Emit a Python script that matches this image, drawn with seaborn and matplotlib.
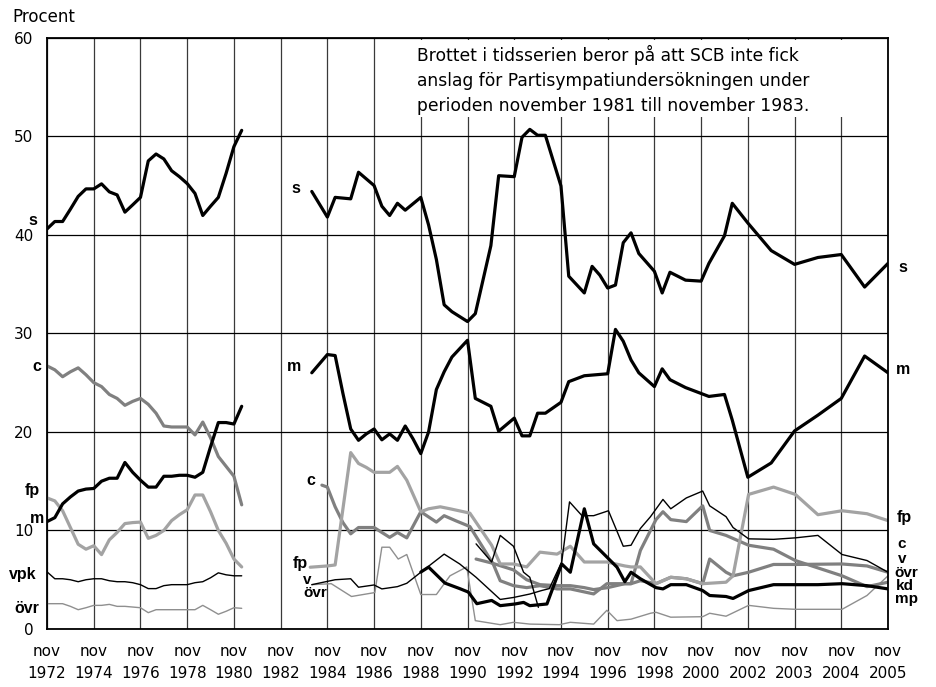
import numpy as np
import matplotlib
matplotlib.use("Agg")
import matplotlib.pyplot as plt
import seaborn as sns
from matplotlib.patches import Rectangle

sns.set_theme(style="white")
plt.rcParams['font.family'] = ['DejaVu Sans']
plt.rcParams['text.color'] = 'black'
plt.rcParams['xtick.color'] = 'black'
plt.rcParams['ytick.color'] = 'black'

# ---- x-axis: one tick per survey label, 6 time slots between ticks ----
tick_months = ["nov"] * 19
tick_years = ["1972", "1974", "1976", "1978", "1980", "1982", "1984", "1986", "1988",
              "1990", "1992", "1994", "1996", "1998", "2000", "2002", "2003", "2004", "2005"]

# ---- period 1: 1972-1981 (time in slots) ----
t1 = list(range(26))
s1 = [40.6, 41.35, 41.35, 42.6, 43.9, 44.66, 44.66, 45.17, 44.36, 44.05, 42.3, 43.04, 43.8,
      47.5, 48.2, 47.7, 46.5, 45.9, 45.2, 44.2, 41.96, 42.9, 43.8, 46.25, 48.95, 50.6]
m1 = [10.9, 11.3, 12.7, 13.4, 14.0, 14.2, 14.26, 15.0, 15.3, 15.3, 16.9, 15.9, 15.1, 14.4,
      14.4, 15.5, 15.5, 15.6, 15.6, 15.4, 15.9, 18.5, 20.95, 20.95, 20.8, 22.6]
c1 = [26.7, 26.3, 25.6, 26.1, 26.5, 25.8, 25.0, 24.6, 23.8, 23.4, 22.7, 23.1, 23.4, 22.8,
      21.9, 20.6, 20.5, 20.5, 20.5, 19.7, 21.0, 19.4, 17.5, 16.5, 15.5, 12.6]
fp1 = [13.3, 13.0, 12.0, 10.3, 8.6, 8.1, 8.45, 7.55, 9.05, 9.8, 10.7, 10.8, 10.85, 9.2, 9.5,
       10.0, 11.0, 11.6, 12.1, 13.6, 13.6, 11.9, 10.0, 8.7, 7.1, 6.3]
vpk1 = [5.8, 5.1, 5.1, 5.0, 4.8, 5.0, 5.1, 5.1, 4.9, 4.8, 4.8, 4.7, 4.5, 4.1, 4.1, 4.4, 4.5,
        4.5, 4.5, 4.7, 4.8, 5.2, 5.7, 5.5, 5.4, 5.4]
ovr1 = [2.57, 2.57, 2.57, 2.3, 1.96, 2.16, 2.4, 2.4, 2.5, 2.3, 2.3, 2.23, 2.16, 1.66, 1.96,
        1.96, 1.96, 1.96, 1.96, 1.96, 2.4, 1.96, 1.5, 1.8, 2.16, 2.1]

# ---- period 2: 1983-2005 ----
s2_t = [34, 36, 37, 39, 40, 42, 43, 44, 45, 46, 48, 49, 50, 51, 52, 54, 55, 57, 58, 60, 61, 62,
        63, 64, 66, 67, 69, 70, 71, 72, 73, 74, 75, 76, 78, 79, 80, 82, 84, 85, 87, 88, 90, 93,
        96, 99, 102, 105, 108]
s2 = [44.4, 41.8, 43.8, 43.65, 46.35, 45.0, 42.9, 41.96, 43.2, 42.5, 43.8, 41.0, 37.5, 32.9,
      32.2, 31.2, 32.0, 38.9, 46.0, 45.9, 49.9, 50.7, 50.1, 50.1, 44.96, 35.8, 34.1, 36.8,
      35.9, 34.6, 34.9, 39.2, 40.2, 38.1, 36.3, 34.1, 36.2, 35.4, 35.3, 37.1, 39.9, 43.2, 41.2,
      38.4, 37.0, 37.7, 38.0, 34.7, 37.1]
m2_t = [34, 36, 37, 38, 39, 40, 41, 42, 43, 44, 45, 46, 47, 48, 49, 50, 51, 52, 54, 55, 57, 58,
        60, 61, 62, 63, 64, 66, 67, 69, 72, 73, 74, 75, 76, 78, 79, 80, 82, 85, 87, 88, 90, 93,
        96, 99, 102, 105, 108]
m2 = [26.0, 27.85, 27.75, 23.9, 20.3, 19.15, 19.8, 20.3, 19.2, 19.8, 19.15, 20.6, 19.3, 17.8,
      20.0, 24.3, 26.1, 27.6, 29.3, 23.4, 22.6, 20.07, 21.4, 19.6, 19.6, 21.9, 21.9, 23.0, 25.1,
      25.7, 25.9, 30.4, 29.2, 27.3, 26.0, 24.6, 26.4, 25.3, 24.5, 23.6, 23.8, 21.2, 15.4, 16.85,
      20.1, 21.7, 23.4, 27.7, 26.0]
c2_t = [35.3, 36, 37, 38, 39, 40, 41, 42, 43, 44, 45, 46.2, 48, 50, 51, 52.6, 54.3, 57.3, 58.2,
        59.9, 61.6, 63.3, 65.5, 67.2, 70.2, 71.9, 74.2, 75, 76.2, 78.2, 80.1, 82.1, 84.2, 85.1,
        87.2, 88.1, 90.1, 93.3, 96.1, 102.1, 105.3, 108]
c2 = [14.6, 14.4, 12.4, 10.8, 9.66, 10.3, 10.3, 10.3, 9.8, 9.3, 9.8, 9.25, 11.9, 10.85, 11.5,
      10.95, 10.4, 6.6, 4.9, 4.4, 4.2, 4.4, 4.07, 4.07, 3.56, 4.6, 4.6, 4.6, 4.9, 4.6, 5.25,
      5.1, 4.6, 7.1, 5.76, 5.4, 5.76, 6.55, 6.55, 6.6, 6.4, 5.76]
fp2_t = [33.8, 36, 37, 39, 40, 41, 42, 43, 44, 45, 46.2, 48, 49, 50.5, 51.75, 54.3, 57.1, 58.2,
         59.9, 61.6, 63.3, 65.5, 67.2, 69, 71.9, 74.2, 75, 76.2, 78.2, 80.1, 82.1, 84.2, 87.2,
         88.1, 90.1, 93.3, 96.1, 99, 102.1, 105.3, 108]
fp2 = [6.27, 6.4, 6.5, 17.9, 16.8, 16.4, 15.9, 15.9, 15.9, 16.5, 15.1, 11.9, 12.2, 12.4, 12.2,
       11.76, 8.5, 6.6, 6.6, 6.3, 7.8, 7.6, 8.4, 6.8, 6.8, 6.4, 6.3, 6.3, 4.6, 5.25, 5.1, 4.6,
       4.75, 5.4, 13.66, 14.4, 13.66, 11.6, 12.0, 11.7, 11.0]
kd2_t = [55.1, 57.1, 59.9, 61.6, 63.3, 65.5, 67.2, 69, 70.2, 72, 74.2, 75, 76.2, 78.2, 79.1,
         80.1, 82.1, 84.2, 85.1, 87.2, 90.1, 93.3, 96.1, 99, 102.1, 105.3, 108]
kd2 = [7.1, 6.7, 6.0, 5.0, 4.5, 4.4, 4.4, 4.2, 4.0, 4.2, 4.6, 4.6, 7.97, 11.1, 11.9, 11.1,
       10.9, 12.5, 10.0, 9.5, 8.5, 8.1, 6.95, 6.2, 5.4, 4.3, 4.75]
v2_t = [34, 37, 39, 40, 42, 43, 45, 46.2, 48, 51, 53, 55.1, 58.2, 59.9, 62, 63.5, 64.5, 66.1,
        67.1, 68.7, 70.2, 72.1, 74, 75, 76.2, 77.5, 79.1, 80.1, 82.1, 84.2, 85.1, 87.2, 88.1,
        90.1, 93.3, 96.1, 99, 102.1, 105.3, 108]
v2 = [4.5, 5.0, 5.1, 4.24, 4.47, 4.07, 4.3, 4.64, 5.76, 7.6, 6.6, 5.25, 3.0, 3.2, 3.55, 3.9,
      4.1, 6.8, 12.9, 11.5, 11.5, 12.0, 8.4, 8.5, 10.2, 11.4, 13.15, 12.2, 13.3, 14.0, 12.5,
      11.4, 10.3, 9.15, 9.1, 9.25, 9.5, 7.56, 6.95, 5.76]
nyd2_t = [55.1, 57.1, 58.2, 59.9, 61.2, 62.0, 63.1]
nyd2 = [8.64, 6.8, 9.5, 8.4, 5.76, 5.25, 2.2]
mp2_t = [48, 49, 51.1, 53, 54.1, 55.2, 57.1, 58.2, 60.1, 61.2, 62, 64.2, 66.1, 67.2, 69, 70.2,
         71.9, 73.2, 74.2, 75, 76.2, 78.2, 79.1, 80.1, 82.1, 84.2, 85.1, 87.2, 88.1, 90.1, 93.3,
         96.1, 99, 102.1, 105.3, 108]
mp2 = [5.78, 6.28, 4.66, 4.1, 3.75, 2.57, 2.9, 2.37, 2.54, 2.7, 2.37, 2.54, 6.6, 5.76, 12.2,
       8.64, 7.3, 6.27, 4.8, 5.76, 5.1, 4.2, 4.07, 4.5, 4.5, 3.9, 3.4, 3.3, 3.1, 3.9, 4.5, 4.5,
       4.5, 4.6, 4.4, 4.07]
ovr2_t = [34, 36.5, 39.1, 42.1, 43, 44, 45.1, 46.2, 48, 50, 51.75, 53.9, 55, 58.2, 59.9, 62,
          65.8, 67.2, 70.2, 71.9, 73.2, 75, 77.5, 78.2, 80.1, 84.2, 85.1, 87.2, 90.1, 93.3, 96.1,
          102.1, 105.3, 108]
ovr2 = [4.5, 4.6, 3.3, 3.7, 8.3, 8.3, 7.1, 7.56, 3.5, 3.5, 5.4, 6.3, 0.85, 0.44, 0.68, 0.5,
        0.44, 0.68, 0.5, 1.9, 0.85, 1.0, 1.6, 1.7, 1.2, 1.25, 1.6, 1.3, 2.4, 2.1, 2.0, 2.0, 3.4,
        5.4]

BLACK = "#000000"
MID = "#808080"
LIGHT = "#a3a3a3"
THIN_GRAY = "#8f8f8f"
THICK = 2.3
THIN = 1.0

fig = plt.figure(figsize=(9.37, 6.87), dpi=100)
ax = fig.add_axes([0.0502, 0.0844, 0.8975, 0.8607])

series = [
    (t1, c1, MID, THICK), (t1, fp1, LIGHT, THICK), (t1, ovr1, THIN_GRAY, THIN),
    (t1, vpk1, BLACK, THIN), (t1, m1, BLACK, THICK), (t1, s1, BLACK, THICK),
    (ovr2_t, ovr2, THIN_GRAY, THIN), (c2_t, c2, MID, THICK), (kd2_t, kd2, MID, THICK),
    (fp2_t, fp2, LIGHT, THICK), (v2_t, v2, BLACK, THIN), (nyd2_t, nyd2, BLACK, THIN),
    (mp2_t, mp2, BLACK, THICK), (m2_t, m2, BLACK, THICK), (s2_t, s2, BLACK, THICK),
]
for i, (tx, vy, col, lw) in enumerate(series):
    sns.lineplot(x=tx, y=vy, ax=ax, color=col, linewidth=lw, sort=False,
                 estimator=None, legend=False, zorder=3 + i * 0.01)

ax.set_xlim(0, 108)
ax.set_ylim(0, 60)
ax.set_xticks(np.arange(0, 109, 6))
ax.set_xticklabels([f"{m}\n{y}" for m, y in zip(tick_months, tick_years)],
                   fontsize=11, linespacing=1.55)
ax.set_yticks(np.arange(0, 61, 10))
ax.set_yticklabels([str(v) for v in range(0, 61, 10)], fontsize=11)
ax.tick_params(axis='y', length=0, pad=10)
ax.tick_params(axis='x', length=0, pad=11)
ax.set_axisbelow(True)
ax.grid(True, axis='y', color='black', linewidth=0.9)
ax.grid(True, axis='x', color='#3a3a3a', linewidth=0.9)
for sp in ax.spines.values():
    sp.set_color('black')
    sp.set_linewidth(1.3)
    sp.set_zorder(10)
ax.set_xlabel("")
ax.set_ylabel("")

# white note box hiding the grid at the top right (kept just below the frame)
ax.add_patch(Rectangle((0.42, 0.866), 0.578, 0.13, transform=ax.transAxes,
                       facecolor='white', edgecolor='none', zorder=1))
ax.text(0.4396, 0.9885,
        "Brottet i tidsserien beror på att SCB inte fick\n"
        "anslag för Partisympatiundersökningen under\n"
        "perioden november 1981 till november 1983.",
        transform=ax.transAxes, fontsize=12.3, va='top', ha='left', linespacing=1.5,
        zorder=2)

fig.text(12 / 937, 1 - 17 / 687, "Procent", fontsize=12, va='center', ha='left')

labels = [
    ("s", -1.8, 41.5, 11.5), ("c", -1.28, 26.6, 11.5), ("fp", -1.93, 14.1, 11.5),
    ("m", -1.28, 11.26, 11.5), ("vpk", -3.08, 5.58, 11.5), ("övr", -2.57, 2.13, 11.5),
    ("s", 31.98, 44.65, 11.5), ("m", 31.7, 26.6, 11.5), ("c", 33.9, 15.1, 11.5),
    ("fp", 32.5, 6.6, 11.5), ("v", 33.4, 5.0, 11), ("övr", 34.4, 3.65, 11),
    ("s", 109.9, 36.7, 11.5), ("m", 109.9, 26.3, 11.5), ("fp", 110.06, 11.36, 11.5),
    ("c", 109.8, 8.6, 11), ("v", 109.8, 7.1, 11), ("övr", 110.4, 5.7, 11),
    ("kd", 110.2, 4.4, 11), ("mp", 110.4, 3.0, 11),
]
for txt, x, y, fs in labels:
    ax.text(x, y, txt, fontsize=fs, fontweight='bold', ha='center', va='center',
            family=['Liberation Sans', 'DejaVu Sans'], clip_on=False, zorder=6)

fig.savefig("out.png", dpi=100)
